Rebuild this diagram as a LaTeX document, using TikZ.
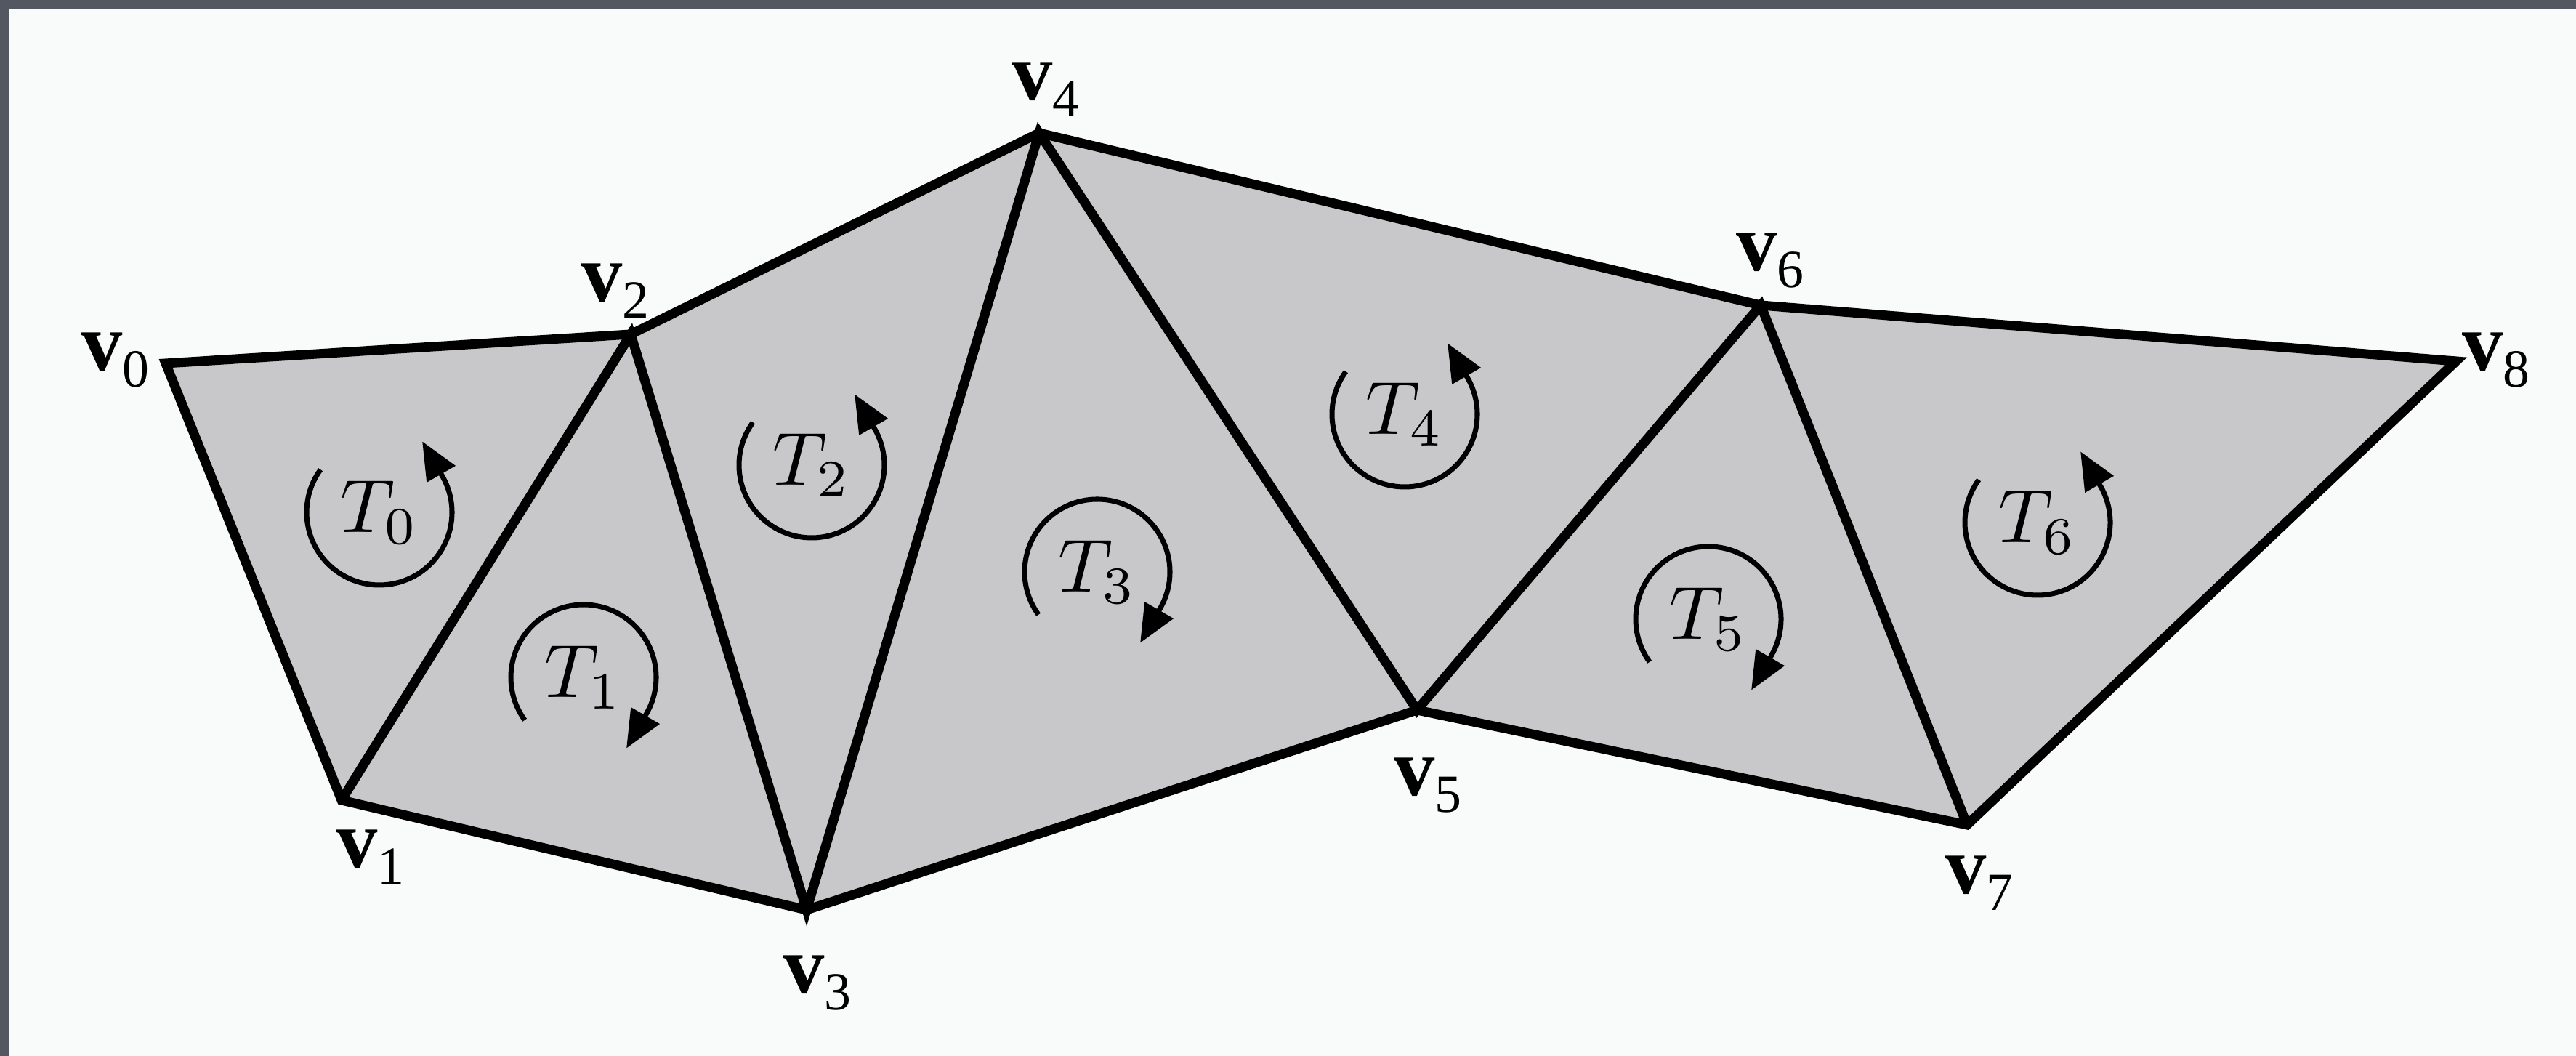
\documentclass[tikz,border=0pt]{standalone}
\usepackage{fontspec}
\setmainfont{Liberation Serif}
\newfontfamily\libserif{Liberation Serif}
\usetikzlibrary{arrows.meta}
\definecolor{bgcol}{RGB}{249,250,250}
\definecolor{bordercol}{RGB}{82,87,97}
\definecolor{fillcol}{RGB}{200,199,201}
\newcommand\vlab[1]{\libserif\fontsize{32}{38}\selectfont\textbf{v}\raisebox{-0.2em}{\fontsize{21}{25}\selectfont\mdseries #1}}
\newcommand\tlab[1]{\scalebox{2.95}{$T_{#1}$}}
\tikzset{
  edge/.style={line width=3.7pt, line join=miter},
  vlabel/.style={anchor=base west, inner sep=0pt},
  tlabel/.style={inner sep=0pt},
  rot/.style={line width=2pt, -{Triangle[length=0.52cm,width=0.44cm]}}
}
\begin{document}
\begin{tikzpicture}
\useasboundingbox (0,0) rectangle (35.45,14.53);
\fill[bgcol] (0,0) rectangle (35.45,14.53);
\fill[bordercol] (0,14.41) rectangle (35.45,14.53);
\fill[bordercol] (0,0) rectangle (0.13,14.53);
% vertices
\coordinate (v0) at (2.28,9.53);
\coordinate (v1) at (4.70,3.52);
\coordinate (v2) at (8.68,9.93);
\coordinate (v3) at (11.10,2.01);
\coordinate (v4) at (14.30,12.70);
\coordinate (v5) at (19.50,4.76);
\coordinate (v6) at (24.23,10.33);
\coordinate (v7) at (27.07,3.18);
\coordinate (v8) at (33.80,9.56);
% strip
\fill[fillcol] (v0) -- (v2) -- (v4) -- (v6) -- (v8) -- (v7) -- (v5) -- (v3) -- (v1) -- cycle;
\draw[edge] (v0) -- (v2) -- (v4) -- (v6) -- (v8) -- (v7) -- (v5) -- (v3) -- (v1) -- cycle;
\draw[edge] (v1) -- (v2) -- (v3) -- (v4) -- (v5) -- (v6) -- (v7);
% vertex labels
\node[vlabel] (l0) at (1.12,9.43) {\vlab{0}};
\node[vlabel] (l1) at (4.63,2.59) {\vlab{1}};
\node[vlabel] (l2) at (8.00,10.38) {\vlab{2}};
\node[vlabel] (l3) at (10.78,0.86) {\vlab{3}};
\node[vlabel] (l4) at (13.92,13.15) {\vlab{4}};
\node[vlabel] (l5) at (19.18,3.58) {\vlab{5}};
\node[vlabel] (l6) at (23.89,10.80) {\vlab{6}};
\node[vlabel] (l7) at (26.77,2.23) {\vlab{7}};
\node[vlabel] (l8) at (33.88,9.43) {\vlab{8}};
% triangle labels
\node[tlabel] (t0) at (5.22,7.48) {\tlab{0}};
\node[tlabel] (t1) at (8.03,5.21) {\tlab{1}};
\node[tlabel] (t2) at (11.17,8.13) {\tlab{2}};
\node[tlabel] (t3) at (15.10,6.66) {\tlab{3}};
\node[tlabel] (t4) at (19.33,8.83) {\tlab{4}};
\node[tlabel] (t5) at (23.51,6.01) {\tlab{5}};
\node[tlabel] (t6) at (28.04,7.34) {\tlab{6}};
% orientation arrows (counterclockwise)
\foreach \t in {t0,t2,t4,t6}{
  \draw[rot] (\t.center) ++(144:1) arc[start angle=144,end angle=390,radius=1] -- ++(480:0.55);
}
% clockwise
\foreach \t in {t1,t3,t5}{
  \draw[rot] (\t.center) ++(216:1) arc[start angle=216,end angle=-30,radius=1] -- ++(-120:0.55);
}
\end{tikzpicture}
\end{document}
